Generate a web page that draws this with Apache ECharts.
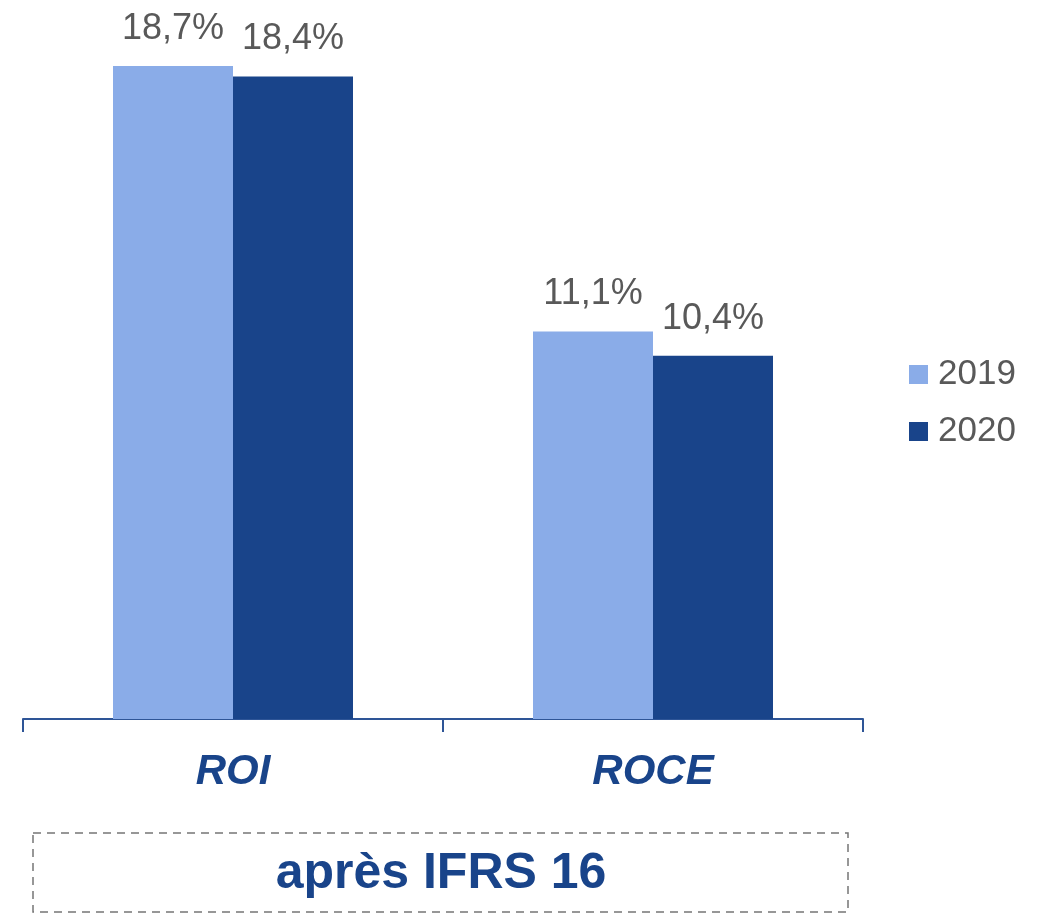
<!DOCTYPE html>
<html style="height: 100%">
<head>
    <meta charset="utf-8">
    <title>ROI / ROCE</title>
    <script type="text/javascript" src="https://cdn.jsdelivr.net/npm/echarts@6/dist/echarts.min.js"></script>
</head>
<body style="height: 100%; margin: 0; background: #fff;">
<div id="container" style="width: 1048px; height: 915px"></div>
<script type="text/javascript">
    // données
    var categories = ['ROI', 'ROCE'];
    var years = ['2019', '2020'];
    var values2019 = [18.7, 11.1];
    var values2020 = [18.4, 10.4];
    var footerText = 'après IFRS 16';

    var FONT = '"Liberation Sans", Arial, sans-serif';
    var dom = document.getElementById("container");
    var myChart = echarts.init(dom);

    function pct(p) {
        return p.value.toFixed(1).replace('.', ',') + '%';
    }

    var labelStyle = {
        show: true,
        position: 'top',
        distance: 19,
        formatter: pct,
        color: '#595959',
        fontSize: 36,
        fontFamily: FONT
    };

    var option = {
        animation: false,
        grid: {left: 23, right: 185, top: 20.6, bottom: 196},
        legend: {
            orient: 'vertical',
            left: 904,
            top: 352,
            itemWidth: 19,
            itemHeight: 19,
            itemGap: 22,
            icon: 'rect',
            data: years,
            textStyle: {color: '#595959', fontSize: 35, fontFamily: FONT, padding: [0, 0, 0, 5]}
        },
        xAxis: {
            type: 'category',
            data: categories,
            axisLine: {lineStyle: {color: '#2E5597', width: 2}},
            axisTick: {show: true, length: 13, lineStyle: {color: '#2E5597', width: 2}},
            axisLabel: {
                margin: 32,
                color: '#19448A',
                fontSize: 42,
                fontWeight: 'bold',
                fontStyle: 'italic',
                fontFamily: FONT
            }
        },
        yAxis: {
            type: 'value',
            min: 0,
            max: 20,
            show: false,
            splitLine: {show: false}
        },
        series: [
            {
                name: years[0],
                type: 'bar',
                barWidth: 120,
                barGap: '0%',
                itemStyle: {color: '#8AACE8'},
                label: labelStyle,
                data: values2019
            },
            {
                name: years[1],
                type: 'bar',
                barWidth: 120,
                barGap: '0%',
                itemStyle: {color: '#19448A'},
                label: labelStyle,
                data: values2020
            }
        ],
        graphic: [
            {
                type: 'rect',
                shape: {x: 33, y: 833, width: 815, height: 79},
                style: {fill: 'none', stroke: '#767676', lineWidth: 1.5, lineDash: [8, 6]}
            },
            {
                type: 'text',
                x: 441,
                y: 874,
                style: {
                    text: footerText,
                    fill: '#19448A',
                    font: 'bold 50px ' + FONT,
                    align: 'center',
                    verticalAlign: 'middle'
                }
            }
        ]
    };
    myChart.setOption(option, true);
</script>
</body>
</html>
